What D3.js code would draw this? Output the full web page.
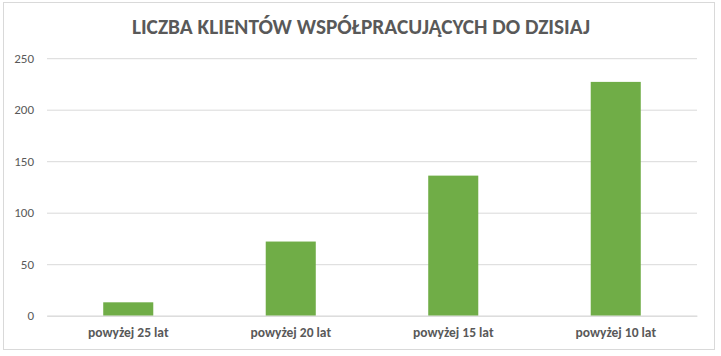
<!DOCTYPE html>
<html><head><meta charset="utf-8">
<script src="https://cdn.jsdelivr.net/npm/d3@7"></script>
<style>
html,body{margin:0;padding:0;background:#fff;}
text{font-family:Carlito,Calibri,Lato,"Open Sans",sans-serif;}
</style></head>
<body>
<svg id="chart" width="721" height="356"></svg>
<script>
const title = "LICZBA KLIENTÓW WSPÓŁPRACUJĄCYCH DO DZISIAJ";
const categories = ["powyżej 25 lat", "powyżej 20 lat", "powyżej 15 lat", "powyżej 10 lat"];
const values = [13, 72, 136, 227];
const yTicks = [0, 50, 100, 150, 200, 250];

const svg = d3.select("#chart");
const W = 721, H = 356;
const plot = {left: 47, right: 697, top: 58.2, bottom: 315.7};

svg.append("rect").attr("x", 3.5).attr("y", 2.5).attr("width", 711).attr("height", 347)
  .attr("fill", "#fff").attr("stroke", "#D9D9D9").attr("stroke-width", 1);

const t = svg.append("text").attr("x", 361).attr("y", 34).attr("text-anchor", "middle")
  .attr("font-weight", "bold").attr("fill", "#595959").attr("font-size", 18.67).text(title);
const tw = t.node().getComputedTextLength();
t.attr("font-size", 18.67 * 458 / tw);

const x = d3.scaleBand().domain(categories).range([plot.left, plot.right]).paddingInner(0.692).paddingOuter(0.346);
const y = d3.scaleLinear().domain([0, 250]).range([plot.bottom, plot.top]);

const yAxis = svg.append("g").attr("transform", `translate(${plot.left},0)`)
  .call(d3.axisLeft(y).tickValues(yTicks).tickSize(-(plot.right - plot.left)).tickPadding(13));
yAxis.select(".domain").remove();
yAxis.selectAll(".tick line").attr("stroke", "#D9D9D9").attr("stroke-width", 1);
yAxis.selectAll(".tick text").attr("fill", "#595959").attr("font-size", 13)
  .style("font-family", "Carlito,Calibri,Lato,'Open Sans',sans-serif");

svg.append("g").selectAll("rect").data(values).join("rect")
  .attr("x", (d, i) => x(categories[i]))
  .attr("width", x.bandwidth())
  .attr("y", d => y(d))
  .attr("height", d => y(0) - y(d))
  .attr("fill", "#70AD47");

const xAxis = svg.append("g").attr("transform", `translate(0,${plot.bottom})`)
  .call(d3.axisBottom(x).tickSize(0).tickPadding(12));
xAxis.select(".domain").attr("stroke", "#D9D9D9");
xAxis.selectAll(".tick text").attr("fill", "#595959").attr("font-size", 13.5).attr("font-weight", "bold")
  .style("font-family", "Carlito,Calibri,Lato,'Open Sans',sans-serif");
</script>
</body></html>
